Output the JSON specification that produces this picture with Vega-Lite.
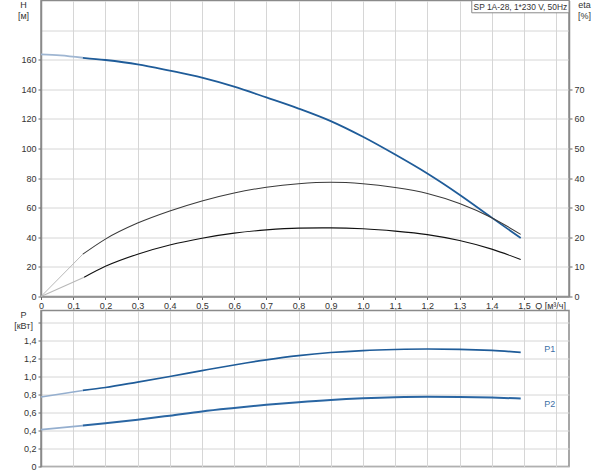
{
  "$schema": "https://vega.github.io/schema/vega-lite/v6.json",
  "autosize": {"type": "pad"},
  "padding": {"left": 12, "top": -1.5, "right": 5, "bottom": 5},
  "background": "white",
  "spacing": 14,
  "bounds": "flush",
  "config": {
    "font": "Liberation Sans",
    "view": {"stroke": "#8a8a8a", "strokeWidth": 1.5},
    "axis": {
      "labelFontSize": 9, "labelColor": "#333333", "labelFont": "Liberation Sans",
      "titleFontSize": 9, "titleFontWeight": "normal", "titleColor": "#333333", "titleFont": "Liberation Sans",
      "domainColor": "#8a8a8a", "domainWidth": 1.5,
      "tickColor": "#666666", "tickSize": 3,
      "gridColor": "#d6d6d6", "gridWidth": 1,
      "labelOverlap": false, "labelFlush": false, "labelPadding": 2
    }
  },
  "datasets": {
    "H": [
      {"Q": 0, "H": 163.6, "seg": "ext"},
      {"Q": 0.06, "H": 162.9, "seg": "ext"},
      {"Q": 0.13, "H": 161.3, "seg": "ext"},
      {"Q": 0.13, "H": 161.3, "seg": "main"},
      {"Q": 0.2, "H": 159.8, "seg": "main"},
      {"Q": 0.3, "H": 156.9, "seg": "main"},
      {"Q": 0.4, "H": 152.6, "seg": "main"},
      {"Q": 0.5, "H": 147.9, "seg": "main"},
      {"Q": 0.6, "H": 141.8, "seg": "main"},
      {"Q": 0.7, "H": 134.5, "seg": "main"},
      {"Q": 0.8, "H": 127.0, "seg": "main"},
      {"Q": 0.9, "H": 118.5, "seg": "main"},
      {"Q": 1.0, "H": 107.9, "seg": "main"},
      {"Q": 1.1, "H": 95.9, "seg": "main"},
      {"Q": 1.2, "H": 83.1, "seg": "main"},
      {"Q": 1.3, "H": 68.8, "seg": "main"},
      {"Q": 1.4, "H": 53.3, "seg": "main"},
      {"Q": 1.49, "H": 39.5, "seg": "main"}
    ],
    "eta": [
      {"Q": 0, "eta": 0, "k": "e1x"},
      {"Q": 0.13, "eta": 14.3, "k": "e1x"},
      {"Q": 0.13, "eta": 14.3, "k": "e1"},
      {"Q": 0.2, "eta": 19.4, "k": "e1"},
      {"Q": 0.3, "eta": 24.8, "k": "e1"},
      {"Q": 0.4, "eta": 28.9, "k": "e1"},
      {"Q": 0.5, "eta": 32.3, "k": "e1"},
      {"Q": 0.6, "eta": 35.0, "k": "e1"},
      {"Q": 0.7, "eta": 36.9, "k": "e1"},
      {"Q": 0.8, "eta": 38.1, "k": "e1"},
      {"Q": 0.9, "eta": 38.6, "k": "e1"},
      {"Q": 1.0, "eta": 38.1, "k": "e1"},
      {"Q": 1.1, "eta": 36.8, "k": "e1"},
      {"Q": 1.2, "eta": 34.8, "k": "e1"},
      {"Q": 1.3, "eta": 31.4, "k": "e1"},
      {"Q": 1.4, "eta": 26.6, "k": "e1"},
      {"Q": 1.49, "eta": 21.0, "k": "e1"},
      {"Q": 0, "eta": 0, "k": "e2x"},
      {"Q": 0.134, "eta": 6.5, "k": "e2x"},
      {"Q": 0.134, "eta": 6.5, "k": "e2"},
      {"Q": 0.2, "eta": 10.2, "k": "e2"},
      {"Q": 0.3, "eta": 14.3, "k": "e2"},
      {"Q": 0.4, "eta": 17.4, "k": "e2"},
      {"Q": 0.5, "eta": 19.7, "k": "e2"},
      {"Q": 0.6, "eta": 21.4, "k": "e2"},
      {"Q": 0.7, "eta": 22.5, "k": "e2"},
      {"Q": 0.8, "eta": 23.1, "k": "e2"},
      {"Q": 0.9, "eta": 23.2, "k": "e2"},
      {"Q": 1.0, "eta": 22.9, "k": "e2"},
      {"Q": 1.1, "eta": 22.1, "k": "e2"},
      {"Q": 1.2, "eta": 20.9, "k": "e2"},
      {"Q": 1.3, "eta": 18.9, "k": "e2"},
      {"Q": 1.4, "eta": 16.0, "k": "e2"},
      {"Q": 1.49, "eta": 12.5, "k": "e2"}
    ],
    "P": [
      {"Q": 0, "P": 0.772, "k": "P1x"},
      {"Q": 0.13, "P": 0.845, "k": "P1x"},
      {"Q": 0.13, "P": 0.845, "k": "P1"},
      {"Q": 0.2, "P": 0.878, "k": "P1"},
      {"Q": 0.3, "P": 0.938, "k": "P1"},
      {"Q": 0.4, "P": 1.0, "k": "P1"},
      {"Q": 0.5, "P": 1.065, "k": "P1"},
      {"Q": 0.6, "P": 1.128, "k": "P1"},
      {"Q": 0.7, "P": 1.185, "k": "P1"},
      {"Q": 0.8, "P": 1.232, "k": "P1"},
      {"Q": 0.9, "P": 1.266, "k": "P1"},
      {"Q": 1.0, "P": 1.288, "k": "P1"},
      {"Q": 1.1, "P": 1.3, "k": "P1"},
      {"Q": 1.2, "P": 1.305, "k": "P1"},
      {"Q": 1.3, "P": 1.302, "k": "P1"},
      {"Q": 1.4, "P": 1.29, "k": "P1"},
      {"Q": 1.49, "P": 1.268, "k": "P1"},
      {"Q": 0, "P": 0.41, "k": "P2x"},
      {"Q": 0.13, "P": 0.455, "k": "P2x"},
      {"Q": 0.13, "P": 0.455, "k": "P2"},
      {"Q": 0.2, "P": 0.48, "k": "P2"},
      {"Q": 0.3, "P": 0.52, "k": "P2"},
      {"Q": 0.4, "P": 0.565, "k": "P2"},
      {"Q": 0.5, "P": 0.612, "k": "P2"},
      {"Q": 0.6, "P": 0.65, "k": "P2"},
      {"Q": 0.7, "P": 0.685, "k": "P2"},
      {"Q": 0.8, "P": 0.715, "k": "P2"},
      {"Q": 0.9, "P": 0.74, "k": "P2"},
      {"Q": 1.0, "P": 0.758, "k": "P2"},
      {"Q": 1.1, "P": 0.77, "k": "P2"},
      {"Q": 1.2, "P": 0.775, "k": "P2"},
      {"Q": 1.3, "P": 0.773, "k": "P2"},
      {"Q": 1.4, "P": 0.766, "k": "P2"},
      {"Q": 1.49, "P": 0.755, "k": "P2"}
    ],
    "Plabels": [
      {"name": "P1", "Q": 1.58, "P": 1.31},
      {"name": "P2", "Q": 1.58, "P": 0.69}
    ],
    "titlebox": [
      {"label": "SP 1A-28, 1*230 V, 50Hz"}
    ]
  },
  "vconcat": [
    {
      "width": 528,
      "height": 296,
      "resolve": {"scale": {"y": "independent", "color": "independent", "strokeWidth": "independent"}},
      "layer": [
        {
          "layer": [
            {
              "data": {"name": "H"},
              "mark": {"type": "line", "interpolate": "monotone", "strokeWidth": 1.8},
              "encoding": {
                "x": {
                  "field": "Q", "type": "quantitative",
                  "scale": {"domain": [0, 1.64], "nice": false, "zero": false},
                  "axis": {
                    "values": [0, 0.1, 0.2, 0.3, 0.4, 0.5, 0.6, 0.7, 0.8, 0.9, 1.0, 1.1, 1.2, 1.3, 1.4, 1.5, 1.6],
                    "tickCount": 100,
                    "grid": true, "title": null, "domain": true,
                    "labelExpr": "datum.value > 1.55 ? 'Q [м³/ч]' : (datum.value == 0 ? '0' : replace(format(datum.value, '.1f'), '.', ','))",
                    "labelOffset": {"condition": {"test": "datum.value > 1.55", "value": -6}, "value": 0}
                  }
                },
                "y": {
                  "field": "H", "type": "quantitative",
                  "scale": {"domain": [0, 200], "nice": false},
                  "axis": {
                    "values": [0, 20, 40, 60, 80, 100, 120, 140, 160, 180],
                    "tickCount": 100,
                    "grid": true,
                    "title": ["H", "[м]"],
                    "titleAngle": 0, "titleAlign": "center", "titleBaseline": "top",
                    "titleX": -18, "titleY": 0,
                    "labelExpr": "datum.value > 170 ? '' : datum.label",
                    "tickOpacity": {"condition": {"test": "datum.value > 170", "value": 0}, "value": 1}
                  }
                },
                "color": {
                  "field": "seg", "type": "nominal",
                  "scale": {"domain": ["ext", "main"], "range": ["#9fb6d2", "#1f5c99"]},
                  "legend": null
                }
              }
            },
            {
              "data": {"name": "titlebox"},
              "mark": {"type": "rect", "fill": "white", "stroke": "#8a8a8a", "strokeWidth": 1},
              "encoding": {
                "x": {"datum": 1.338, "type": "quantitative"},
                "x2": {"datum": 1.64},
                "y": {"datum": 191.7, "type": "quantitative"},
                "y2": {"datum": 200}
              }
            },
            {
              "data": {"name": "titlebox"},
              "mark": {"type": "text", "fontSize": 8.4, "color": "#333333", "align": "center", "baseline": "middle"},
              "encoding": {
                "x": {"datum": 1.489, "type": "quantitative"},
                "y": {"datum": 195.6, "type": "quantitative"},
                "text": {"field": "label"}
              }
            }
          ]
        },
        {
          "data": {"name": "eta"},
          "mark": {"type": "line", "interpolate": "monotone"},
          "encoding": {
            "x": {"field": "Q", "type": "quantitative", "scale": {"domain": [0, 1.64], "nice": false, "zero": false}},
            "y": {
              "field": "eta", "type": "quantitative",
              "scale": {"domain": [0, 100], "nice": false},
              "axis": {
                "orient": "right",
                "values": [0, 10, 20, 30, 40, 50, 60, 70],
                "tickCount": 100,
                "grid": false,
                "title": ["eta", "[%]"],
                "titleAngle": 0, "titleAlign": "center", "titleBaseline": "top",
                "titleX": 15, "titleY": 0
              }
            },
            "color": {
              "field": "k", "type": "nominal",
              "scale": {"domain": ["e1x", "e1", "e2x", "e2"], "range": ["#b8b8b8", "#3a3a3a", "#b8b8b8", "#111111"]},
              "legend": null
            },
            "strokeWidth": {
              "field": "k", "type": "nominal",
              "scale": {"domain": ["e1x", "e1", "e2x", "e2"], "range": [1, 1.1, 1, 2.2]},
              "legend": null
            }
          }
        }
      ]
    },
    {
      "width": 528,
      "height": 156,
      "layer": [
        {
          "data": {"name": "P"},
          "mark": {"type": "line", "interpolate": "monotone"},
          "encoding": {
            "x": {
              "field": "Q", "type": "quantitative",
              "scale": {"domain": [0, 1.64], "nice": false, "zero": false},
              "axis": {
                "values": [0, 0.1, 0.2, 0.3, 0.4, 0.5, 0.6, 0.7, 0.8, 0.9, 1.0, 1.1, 1.2, 1.3, 1.4, 1.5, 1.6],
                "tickCount": 100,
                "grid": true, "labels": false, "ticks": false, "title": null, "domain": false
              }
            },
            "y": {
              "field": "P", "type": "quantitative",
              "scale": {"domain": [0, 1.733], "nice": false},
              "axis": {
                "values": [0, 0.2, 0.4, 0.6, 0.8, 1.0, 1.2, 1.4, 1.6],
                "tickCount": 100,
                "grid": true,
                "title": ["P", "[кВт]"],
                "titleAngle": 0, "titleAlign": "center", "titleBaseline": "top",
                "titleX": -18, "titleY": 0,
                "labelExpr": "datum.value > 1.5 ? '' : (datum.value == 0 ? '0' : replace(format(datum.value, '.1f'), '.', ','))"
              }
            },
            "color": {
              "field": "k", "type": "nominal",
              "scale": {"domain": ["P1x", "P1", "P2x", "P2"], "range": ["#95afcf", "#1f5c99", "#95afcf", "#2a66a3"]},
              "legend": null
            },
            "strokeWidth": {
              "field": "k", "type": "nominal",
              "scale": {"domain": ["P1x", "P1", "P2x", "P2"], "range": [1.5, 2, 1.2, 1.2]},
              "legend": null
            }
          }
        },
        {
          "data": {"name": "Plabels"},
          "mark": {"type": "text", "fontSize": 9, "color": "#3d6fa6", "align": "center", "baseline": "middle"},
          "encoding": {
            "x": {"field": "Q", "type": "quantitative", "scale": {"domain": [0, 1.64], "nice": false, "zero": false}},
            "y": {"field": "P", "type": "quantitative", "scale": {"domain": [0, 1.733], "nice": false}},
            "text": {"field": "name"}
          }
        }
      ]
    }
  ]
}
